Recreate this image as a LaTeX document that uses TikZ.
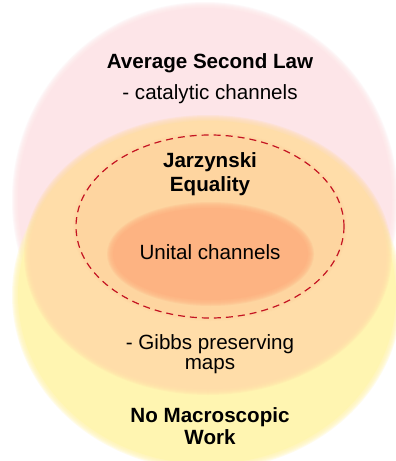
\documentclass[tikz,border=0pt]{standalone}
\usepackage{fontspec}
\setmainfont{Liberation Sans}

\definecolor{pinkfill}{HTML}{FDE5E8}
\definecolor{yellowfill}{HTML}{FFF5B1}
\definecolor{peachfill}{HTML}{FFDDA9}
\definecolor{peachdeep}{HTML}{FED5A0}
\definecolor{unitalfill}{HTML}{FDB382}
\definecolor{dashred}{HTML}{C41422}

% Soft-edged filled ellipse: centre x, centre y, x radius, y radius, colour.
% Stacks translucent ellipses so the rim fades over a few points.
\newcommand\softellipse[5]{%
  \foreach \d in {6,5,4,3,2,1}{%
    \fill[#5, opacity=0.25] (#1,#2) ellipse [x radius={#3pt+\d pt-3pt}, y radius={#4pt+\d pt-3pt}];
  }%
  \fill[#5] (#1,#2) ellipse [x radius={#3pt-3pt}, y radius={#4pt-3pt}];
}

\tikzset{
  heading/.style={font=\fontsize{20.6}{24}\selectfont\bfseries, text=black, inner sep=0pt, anchor=base},
  note/.style={font=\fontsize{20.6}{24}\selectfont, text=black, inner sep=0pt, anchor=base},
  boundary/.style={draw=dashred, line width=1.2pt, dash pattern=on 7pt off 5pt},
}

\begin{document}
\begin{tikzpicture}[x=1pt, y=1pt]
  \useasboundingbox (0,0) rectangle (396,-461);
  \fill[white] (0,0) rectangle (396,-461);

  % nested regions
  \softellipse{205}{-200}{190}{195}{pinkfill}
  \softellipse{207}{-295}{192}{172}{yellowfill}
  \softellipse{208}{-255}{181}{137}{peachfill}
  \softellipse{210}{-226.5}{134}{91.5}{peachdeep}
  \softellipse{210.5}{-254}{100.5}{49}{unitalfill}

  % Jarzynski boundary
  \draw[boundary] (210,-226.5) ellipse [x radius=134pt, y radius=91.5pt];

  % labels
  \node[heading] (asl) at (210,-68) {Average Second Law};
  \node[note] (cat) at (210,-99.5) {- catalytic channels};
  \node[heading] (jar1) at (210,-167) {Jarzynski};
  \node[heading] (jar2) at (210,-191) {Equality};
  \node[note] (uni) at (210,-259) {Unital channels};
  \node[note] (gib1) at (210,-349) {- Gibbs preserving};
  \node[note] (gib2) at (210,-369) {maps};
  \node[heading] (nmw1) at (210,-422) {No Macroscopic};
  \node[heading] (nmw2) at (210,-444.5) {Work};
\end{tikzpicture}
\end{document}
